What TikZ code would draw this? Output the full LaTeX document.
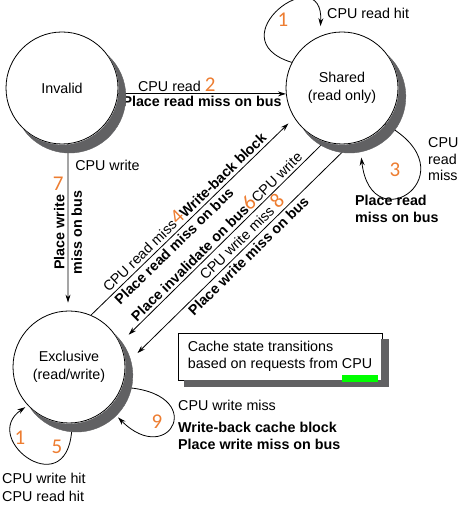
\documentclass[tikz,border=0pt]{standalone}
\usepackage{fontspec}
\setmainfont{Liberation Sans}
\newfontfamily\numfont{Carlito}
\usetikzlibrary{arrows.meta}
\definecolor{numorange}{RGB}{237,125,49}
\definecolor{markgreen}{RGB}{0,255,0}
\definecolor{shadowgray}{rgb}{0.38,0.38,0.39}
\newcommand{\stepnum}[1]{{\numfont\fontsize{21}{21}\selectfont\color{numorange}#1}}
\pgfdeclarelayer{edges}
\pgfsetlayers{edges,main}

\begin{document}
\begin{tikzpicture}[x=1pt, y=1pt,
    font=\fontsize{14.3}{17.5}\selectfont,
    >={Stealth[length=8pt,width=5pt]},
    state/.style={circle, draw, line width=0.8pt, fill=white, minimum size=112pt,
        inner sep=0pt, align=center},
    note/.style={draw, line width=0.8pt, fill=white, minimum width=204pt, inner sep=6pt,
        align=left, minimum height=47pt},
    crescent/.style={fill=shadowgray, draw=shadowgray, line width=0.4pt},
    trans/.style={->, line width=0.8pt},
    lbl/.style={inner sep=2pt, align=left},
    boldlbl/.style={lbl, font=\fontsize{14.3}{17.5}\selectfont\bfseries}]
    \useasboundingbox (0,0) rectangle (464,509);
    % Draw the three cache states
    \node[state] (invalid) at (62,421) {Invalid};
    \node[state] (shared) at (342,421) {Shared\\(read only)};
    \node[state] (excl) at (69,142) {Exclusive\\(read/write)};
    % Draw the legend box
    \node[note] (note) at (280,152.5) {Cache state transitions\\based on requests from CPU};
    % Crescent shadows on the lower right of each state
    \foreach \n in {invalid,shared,excl}
        \path[crescent] (\n.35.7) arc[start angle=46.6, end angle=-144.3, radius=56.4]
            arc[start angle=-133.4, end angle=35.7, radius=56.4] -- cycle;
    \path[crescent] (note.south west) ++(7,-6) -- ++(204,0) -- ++(0,47) -- ++(-7,0)
        -- ++(0,-41) -- ++(-197,0) -- cycle;
    % The green mark under CPU
    \fill[markgreen] ([shift={(-40pt,-2pt)}]note.south east)
        rectangle ([shift={(-4pt,5pt)}]note.south east);
    % Draw the transitions below the shadows
    \begin{pgfonlayer}{edges}
    \draw[trans] (invalid.-6) -- node[lbl, above, pos=0.35] (read2) {CPU read \stepnum{2}}
        node[boldlbl, below] (read2b) {Place read miss on bus} (shared.186);
    \draw[trans, shorten >=8pt] (invalid.-84)
        -- node[lbl, right=5pt, pos=0.13] (write7) {CPU write}
        node[lbl, left=2pt, pos=0.24] (num7) {\stepnum{7}}
        node[boldlbl, rotate=90, align=center, pos=0.53] (write7b) {Place write\\miss on bus}
        (excl.91);
    \draw[trans, shorten >=8pt] (excl.67)
        -- node[lbl, inner sep=3pt, sloped, above, pos=0.49] (miss4) {CPU read miss\stepnum{4}\textbf{Write-back block}}
        node[boldlbl, inner sep=2.5pt, sloped, below, pos=0.38] (miss4b) {Place read miss on bus}
        (shared.212);
    \draw[trans, shorten >=12pt] (shared.252)
        -- node[lbl, inner sep=2.5pt, sloped, above] (write6) {\textbf{Place invalidate on bus}\stepnum{6}CPU write}
        node[lbl, inner sep=1pt, sloped, below, pos=0.44] (miss8) {CPU write miss \stepnum{8}}
        (excl.25);
    \draw[trans, shorten >=17pt] (shared.-81)
        -- node[boldlbl, inner sep=2.5pt, sloped, below, pos=0.48] (miss8b) {Place write miss on bus}
        (excl.2);
    % Self loops
    \draw[trans, shorten >=10pt] (shared.153) .. controls +(-77,24) and +(4,78) .. (shared.113);
    \draw[trans, shorten >=16pt] (shared.-40) .. controls +(88,-48) and +(12,-102) .. (shared.-72);
    \draw[trans, shorten >=14pt] (excl.-21) .. controls +(89,-4) and +(62,-62) .. (excl.-46);
    \draw[trans, shorten >=3pt] (excl.-87) .. controls +(0,-85) and +(-50,-34) .. (excl.-137);
    \end{pgfonlayer}
    % Loop labels
    \node[lbl] (num1) at (283,489) {\stepnum{1}};
    \node[lbl, anchor=west] (hit1) at (325,496) {CPU read hit};
    \node[lbl] (num3) at (395,339) {\stepnum{3}};
    \node[lbl, anchor=west, font=\fontsize{14.3}{16.5}\selectfont] (miss3) at (426,349.5) {CPU\\read\\miss};
    \node[boldlbl, anchor=west] (miss3b) at (353,300) {Place read\\miss on bus};
    \node[lbl] (num9) at (157,87) {\stepnum{9}};
    \node[lbl, anchor=west] (miss9) at (176,104) {CPU write miss};
    \node[boldlbl, anchor=west] (miss9b) at (176,73) {Write-back cache block\\Place write miss on bus};
    \node[lbl] (num1b) at (20,71) {\stepnum{1}};
    \node[lbl] (num5) at (57,62) {\stepnum{5}};
    \node[lbl, anchor=west] (hit15) at (0,21.5) {CPU write hit\\CPU read hit};
\end{tikzpicture}
\end{document}
